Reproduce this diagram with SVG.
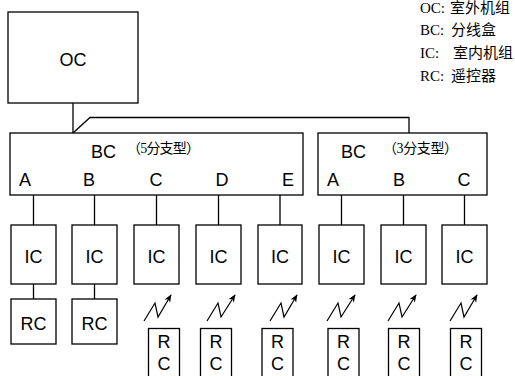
<svg xmlns="http://www.w3.org/2000/svg" width="515" height="376" viewBox="0 0 515 376">
<defs>
<style>
.box{fill:#fff;stroke:#000;stroke-width:1.3}
.ln{fill:none;stroke:#000;stroke-width:1.3}
.zz{fill:none;stroke:#000;stroke-width:1.2}
.t{font-family:"Liberation Sans",Arial,sans-serif;font-size:18px;fill:#000;text-anchor:middle}
.tl{font-family:"Liberation Sans",Arial,sans-serif;font-size:18px;fill:#000}
.sm{font-family:"Liberation Serif","Noto Sans CJK SC",serif;font-size:14px;fill:#000}
.lg{font-family:"Liberation Serif","Noto Sans CJK SC",serif;font-size:15px;fill:#000}
</style>
<marker id="ah" viewBox="0 0 10 10" refX="9" refY="5" markerWidth="8" markerHeight="8" orient="auto" markerUnits="userSpaceOnUse">
<path d="M0,1 L10,5 L0,9 L3,5 Z" fill="#000"/>
</marker>
</defs>
<rect width="515" height="376" fill="#fff"/>

<g id="legend">
<text class="lg" x="420" y="13">OC:<tspan x="450">室外机组</tspan></text>
<text class="lg" x="420" y="35">BC:<tspan x="451">分线盒</tspan></text>
<text class="lg" x="420" y="58">IC:<tspan x="453">室内机组</tspan></text>
<text class="lg" x="420" y="81">RC:<tspan x="451">遥控器</tspan></text>
</g>

<g id="connectors">
<path class="ln" d="M73,103 V133"/>
<path class="ln" d="M73,133 L90,117.5 H409 V133"/>
<path class="ln" d="M33.5,195 V225 M94.5,195 V225 M156.5,195 V225 M218.5,195 V225 M280,195 V225 M341.5,195 V225 M403.5,195 V225 M464.5,195 V225"/>
<path class="ln" d="M33.5,284 V299 M94.5,284 V299"/>
<path class="zz" marker-end="url(#ah)" d="M144,321 L155,303 L158,317 L171,295"/>
<path class="zz" marker-end="url(#ah)" d="M207,321 L218,303 L221,317 L235,295"/>
<path class="zz" marker-end="url(#ah)" d="M270,321 L281,303 L284,317 L297,295"/>
<path class="zz" marker-end="url(#ah)" d="M327,321 L338,303 L341,317 L355,295"/>
<path class="zz" marker-end="url(#ah)" d="M388,321 L399,303 L402,317 L416,295"/>
<path class="zz" marker-end="url(#ah)" d="M450,321 L461,303 L464,317 L477,295"/>
</g>

<g id="oc">
<rect class="box" x="8" y="12" width="130" height="91"/>
<text class="t" x="73" y="66">OC</text>
</g>

<g id="bc1">
<rect class="box" x="10" y="133" width="293" height="62"/>
<text class="tl" x="91" y="158">BC</text>
<text class="sm" x="127" y="153" textLength="73" lengthAdjust="spacing">（5分支型）</text>
<text class="t" x="25" y="186">A</text>
<text class="t" x="89" y="186">B</text>
<text class="t" x="156" y="186">C</text>
<text class="t" x="222" y="186">D</text>
<text class="t" x="288" y="186">E</text>
</g>

<g id="bc2">
<rect class="box" x="318" y="133" width="169" height="62"/>
<text class="tl" x="341" y="158">BC</text>
<text class="sm" x="383" y="153" textLength="75" lengthAdjust="spacing">（3分支型）</text>
<text class="t" x="333" y="186">A</text>
<text class="t" x="399" y="186">B</text>
<text class="t" x="464" y="186">C</text>
</g>

<g id="ic1"><rect class="box" x="11" y="225" width="45" height="59"/><text class="t" x="33.5" y="263">IC</text></g>
<g id="ic2"><rect class="box" x="72" y="225" width="45" height="59"/><text class="t" x="94.5" y="263">IC</text></g>
<g id="ic3"><rect class="box" x="134" y="225" width="45" height="59"/><text class="t" x="156.5" y="263">IC</text></g>
<g id="ic4"><rect class="box" x="196" y="225" width="45" height="59"/><text class="t" x="218.5" y="263">IC</text></g>
<g id="ic5"><rect class="box" x="258" y="225" width="44" height="59"/><text class="t" x="280" y="263">IC</text></g>
<g id="ic6"><rect class="box" x="319" y="225" width="45" height="59"/><text class="t" x="341.5" y="263">IC</text></g>
<g id="ic7"><rect class="box" x="381" y="225" width="45" height="59"/><text class="t" x="403.5" y="263">IC</text></g>
<g id="ic8"><rect class="box" x="442" y="225" width="45" height="59"/><text class="t" x="464.5" y="263">IC</text></g>

<g id="rc1"><rect class="box" x="11" y="299" width="45" height="45"/><text class="t" x="33.5" y="330">RC</text></g>
<g id="rc2"><rect class="box" x="72" y="299" width="45" height="45"/><text class="t" x="94.5" y="330">RC</text></g>

<g id="rc3"><rect class="box" x="148.5" y="328.5" width="31" height="52"/><text class="t" x="164" y="348">R</text><text class="t" x="164" y="370">C</text></g>
<g id="rc4"><rect class="box" x="200.5" y="328.5" width="31" height="52"/><text class="t" x="216" y="348">R</text><text class="t" x="216" y="370">C</text></g>
<g id="rc5"><rect class="box" x="262" y="328.5" width="31" height="52"/><text class="t" x="277.5" y="348">R</text><text class="t" x="277.5" y="370">C</text></g>
<g id="rc6"><rect class="box" x="328" y="328.5" width="31" height="52"/><text class="t" x="343.5" y="348">R</text><text class="t" x="343.5" y="370">C</text></g>
<g id="rc7"><rect class="box" x="388.5" y="328.5" width="31" height="52"/><text class="t" x="404" y="348">R</text><text class="t" x="404" y="370">C</text></g>
<g id="rc8"><rect class="box" x="450.5" y="328.5" width="31" height="52"/><text class="t" x="466" y="348">R</text><text class="t" x="466" y="370">C</text></g>
</svg>
